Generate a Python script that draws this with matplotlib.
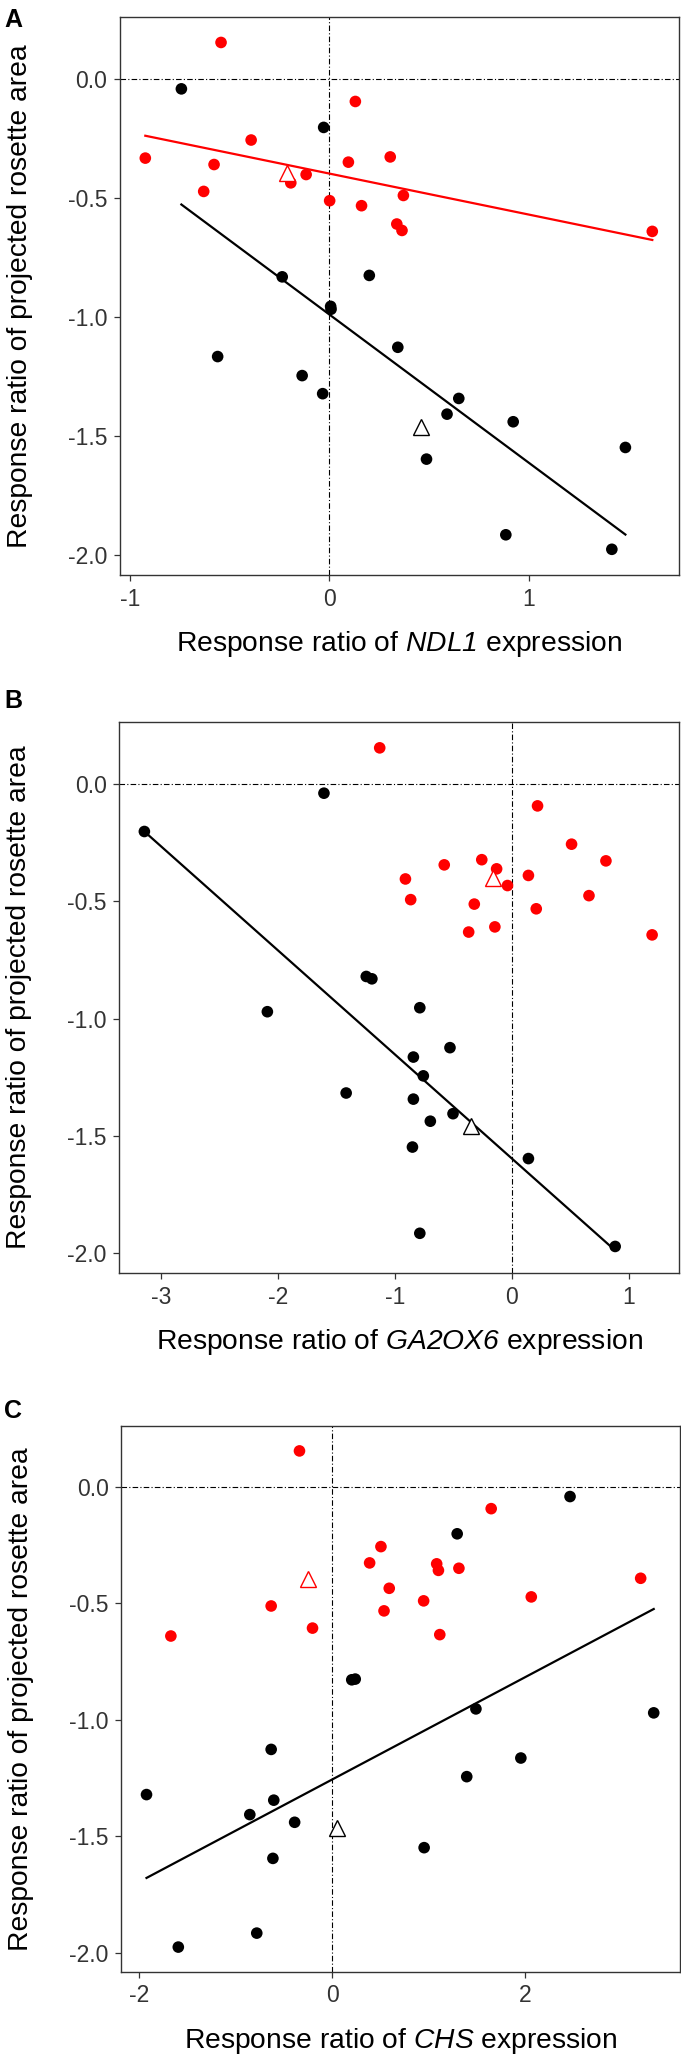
import matplotlib
matplotlib.use("Agg")
import matplotlib.pyplot as plt

plt.rcParams["font.family"] = ["Liberation Sans", "DejaVu Sans"]
# nombres de genes en cursiva (letras y digitos)
plt.rcParams["mathtext.fontset"] = "custom"
plt.rcParams["mathtext.rm"] = "Liberation Sans:italic"
plt.rcParams["mathtext.it"] = "Liberation Sans:italic"

# === Datos ===
# Panel A (NDL1)
a_red_x = [-0.923, -0.543, -0.578, -0.630, -0.392, -0.193, -0.116, 0.002, 0.096, 0.131,
           0.162, 0.306, 0.339, 0.365, 0.372, 1.621]
a_red_y = [-0.331, 0.155, -0.358, -0.471, -0.255, -0.435, -0.400, -0.510, -0.348, -0.093,
           -0.531, -0.326, -0.608, -0.635, -0.488, -0.639]
a_blk_x = [-0.742, -0.028, -0.236, 0.201, 0.007, 0.009, -0.560, -0.136, -0.033, 0.344,
           0.650, 0.591, 0.923, 0.488, 1.486, 0.886, 1.418]
a_blk_y = [-0.040, -0.202, -0.830, -0.824, -0.954, -0.966, -1.165, -1.245, -1.321, -1.126,
           -1.341, -1.407, -1.439, -1.596, -1.547, -1.914, -1.975]
a_mean_red = (-0.212, -0.393)
a_mean_blk = (0.460, -1.460)
a_fit_red = ([-0.923, 1.621], [-0.237, -0.675])
a_fit_blk = ([-0.742, 1.486], [-0.526, -1.913])

# Panel B (GA2OX6)
b_red_x = [-1.130, -0.910, -0.865, -0.578, -0.257, -0.130, -0.037, -0.321, -0.369, -0.145,
           0.220, 0.142, 0.209, 0.511, 0.805, 0.660, 1.200]
b_red_y = [0.152, -0.406, -0.494, -0.346, -0.324, -0.363, -0.434, -0.513, -0.632, -0.610,
           -0.095, -0.391, -0.533, -0.258, -0.329, -0.477, -0.644]
b_blk_x = [-1.607, -3.143, -1.245, -1.197, -2.091, -0.787, -0.529, -0.842, -0.757, -1.417,
           -0.842, -0.503, -0.697, -0.850, 0.142, -0.787, 0.884]
b_blk_y = [-0.041, -0.204, -0.821, -0.831, -0.971, -0.954, -1.124, -1.164, -1.244, -1.317,
           -1.343, -1.405, -1.437, -1.547, -1.596, -1.914, -1.970]
b_mean_red = (-0.157, -0.402)
b_mean_blk = (-0.350, -1.459)
b_fit_blk = ([-3.143, 0.884], [-0.204, -1.987])

# Panel C (CHS)
c_red_x = [-0.338, 1.646, -1.669, -0.631, -0.203, 0.388, 0.505, 0.591, 0.537, 0.947,
           1.082, 1.100, 1.114, 1.312, 2.061, 3.193]
c_red_y = [0.155, -0.093, -0.640, -0.511, -0.606, -0.326, -0.256, -0.435, -0.532, -0.489,
           -0.330, -0.358, -0.634, -0.349, -0.472, -0.392]
c_blk_x = [2.462, 1.294, 0.203, 0.239, 1.488, 3.328, -0.631, 1.953, 1.393, -1.921,
           -0.604, -0.852, -0.388, 0.952, -0.613, -0.780, -1.592]
c_blk_y = [-0.041, -0.201, -0.828, -0.825, -0.953, -0.970, -1.127, -1.164, -1.244, -1.321,
           -1.345, -1.407, -1.440, -1.549, -1.595, -1.916, -1.976]
c_mean_red = (-0.253, -0.396)
c_mean_blk = (0.054, -1.463)
c_fit_blk = ([-1.921, 3.328], [-1.679, -0.524])

W, H = 681, 2067
fig = plt.figure(figsize=(W / 100, H / 100), dpi=100)


def add_panel(box, letter, label_y, red, blk, mean_red, mean_blk, fits, xlim, xticks, gene):
    left, top, right, bottom = box
    ax = fig.add_axes([left / W, 1 - bottom / H, (right - left) / W, (bottom - top) / H])
    ax.axhline(0, color="black", lw=0.8, dashes=(5, 2, 1, 2), zorder=1)
    ax.axvline(0, color="black", lw=0.8, dashes=(5, 2, 1, 2), zorder=1)
    for fx, fy, col in fits:
        ax.plot(fx, fy, color=col, lw=1.6, zorder=2)
    ax.scatter(red[0], red[1], s=70, color="#FF0000", edgecolors="none", zorder=3)
    ax.scatter(blk[0], blk[1], s=70, color="black", edgecolors="none", zorder=3)
    ax.plot(*mean_red, marker="^", ms=11, mfc="white", mec="#FF0000", mew=1.0, zorder=4)
    ax.plot(*mean_blk, marker="^", ms=11, mfc="white", mec="black", mew=1.0, zorder=4)
    ax.set_xlim(xlim)
    ax.set_ylim(-2.083, 0.262)
    ax.set_xticks(xticks)
    ax.set_xticklabels([str(t) for t in xticks])
    ax.set_yticks([0.0, -0.5, -1.0, -1.5, -2.0])
    ax.set_yticklabels(["0.0", "-0.5", "-1.0", "-1.5", "-2.0"])
    ax.tick_params(length=4, width=0.9, color="#333333", labelcolor="#333333",
                   labelsize=16.5, pad=5)
    for s in ax.spines.values():
        s.set_color("#333333")
        s.set_linewidth(1.0)
    ax.set_xlabel("Response ratio of $\\mathrm{" + gene + "}$ expression",
                  fontsize=20.3, labelpad=13)
    ax.set_ylabel("Response ratio of projected rosette area", fontsize=20.3, labelpad=25)
    fig.text(4 / W, 1 - label_y / H, letter, fontsize=18, fontweight="bold",
             va="center", ha="left")
    return ax


add_panel((120, 17, 679, 575), "A", 20, (a_red_x, a_red_y), (a_blk_x, a_blk_y),
          a_mean_red, a_mean_blk,
          [(a_fit_red[0], a_fit_red[1], "#FF0000"), (a_fit_blk[0], a_fit_blk[1], "black")],
          (-1.05, 1.755), [-1, 0, 1], "NDL1")
add_panel((119, 722, 679, 1273), "B", 701, (b_red_x, b_red_y), (b_blk_x, b_blk_y),
          b_mean_red, b_mean_blk,
          [(b_fit_blk[0], b_fit_blk[1], "black")],
          (-3.36, 1.43), [-3, -2, -1, 0, 1], "GA2OX6")
add_panel((121, 1426, 680, 1972), "C", 1411, (c_red_x, c_red_y), (c_blk_x, c_blk_y),
          c_mean_red, c_mean_blk,
          [(c_fit_blk[0], c_fit_blk[1], "black")],
          (-2.185, 3.60), [-2, 0, 2], "CHS")

fig.savefig("out.png", dpi=100)
plt.close(fig)
